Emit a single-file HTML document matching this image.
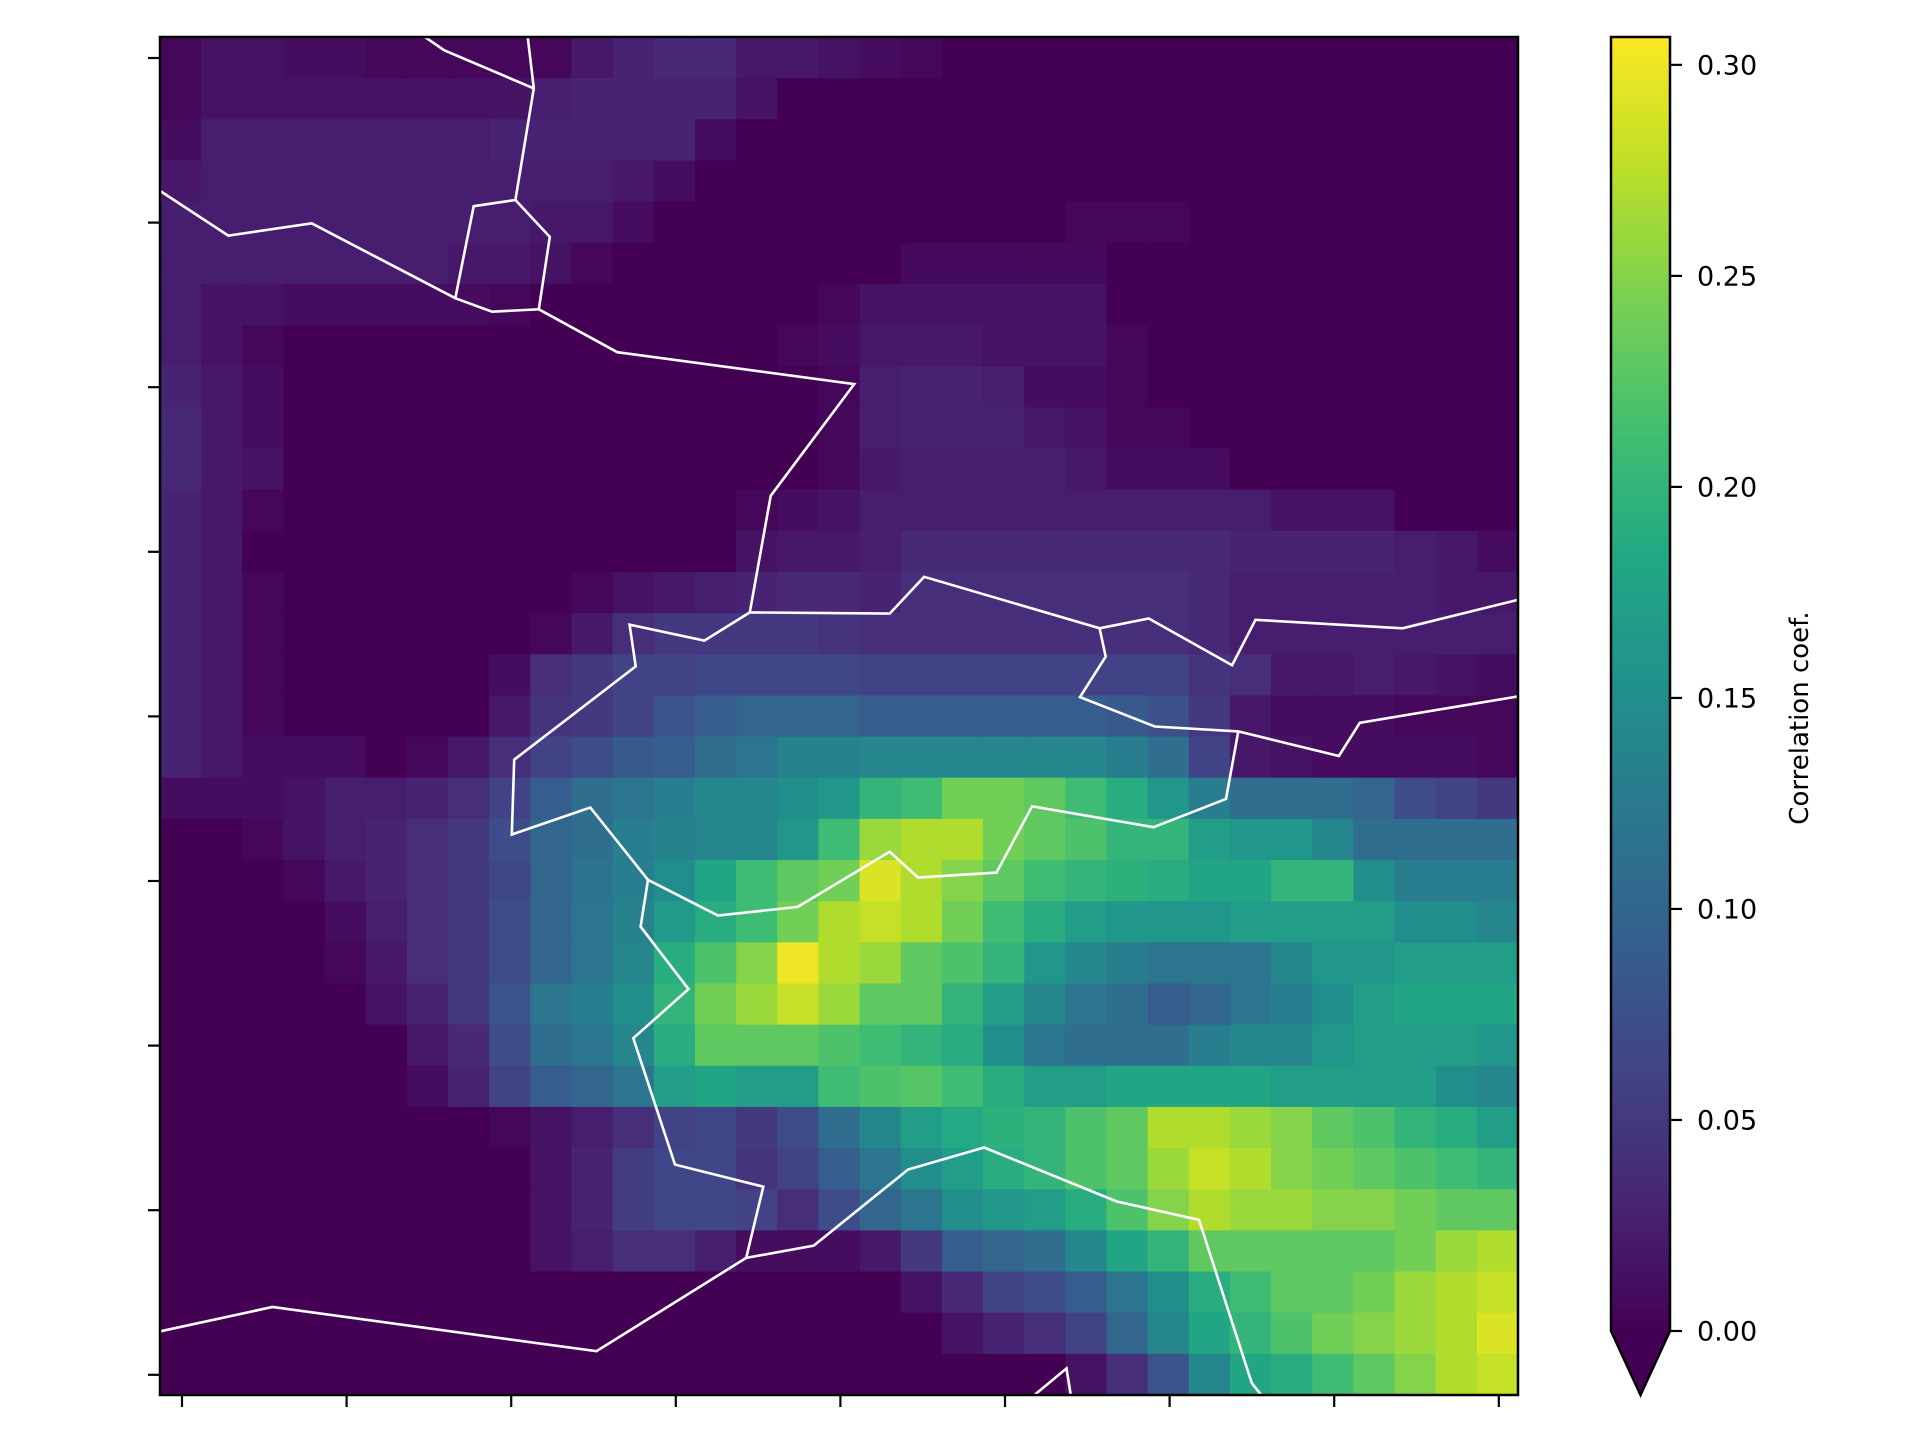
<!DOCTYPE html>
<html><head><meta charset="utf-8"><style>
html,body{margin:0;padding:0;background:#fff;}
svg{display:block;}
text{font-family:"DejaVu Sans","Liberation Sans",sans-serif;}
</style></head><body>
<svg id="chart" width="1920" height="1440" viewBox="0 0 1920 1440" xmlns="http://www.w3.org/2000/svg">
<defs>
<linearGradient id="vir" x1="0" y1="1" x2="0" y2="0">
<stop offset="0" stop-color="#440154"/><stop offset="0.1" stop-color="#482475"/><stop offset="0.2" stop-color="#414487"/><stop offset="0.3" stop-color="#355f8d"/><stop offset="0.4" stop-color="#2a788e"/><stop offset="0.5" stop-color="#21918c"/><stop offset="0.6" stop-color="#22a884"/><stop offset="0.7" stop-color="#44bf70"/><stop offset="0.8" stop-color="#7ad151"/><stop offset="0.9" stop-color="#bddf26"/><stop offset="1" stop-color="#fde725"/>
</linearGradient>
<clipPath id="plotclip"><rect x="160" y="37" width="1358" height="1358"/></clipPath>
</defs>
<g id="cells"></g>
<g id="coast" clip-path="url(#plotclip)"></g>
<rect x="160" y="37" width="1358" height="1358" fill="none" stroke="#000" stroke-width="2.5"/>
<g id="axticks"></g>
<g id="cbar">
<rect x="1611" y="37" width="59" height="1294" fill="url(#vir)"/>
<polygon points="1611,1331 1670,1331 1640.5,1395" fill="#440154"/>
<path d="M1611,1331 L1611,37 L1670,37 L1670,1331 L1640.5,1395 Z" fill="none" stroke="#000" stroke-width="2.5"/>
</g>
<g id="cbticks"></g>
<text x="1808" y="718" font-size="26" text-anchor="middle" transform="rotate(-90 1808 718)">Correlation coef.</text>
</svg>
<script>
const NS="http://www.w3.org/2000/svg";
// values in hundredths (0.01 units), rows top->bottom, 33 columns each
const row0=[0.5,1.5,1.5,1,1,0.5,0.5,0.5,0.5,0.5,2,3,3.5,3.5,2,2,1.5,1,0.5,0,0,0,0,0,0,0,0,0,0,0,0,0,0];
const row1=[0.5,1.5,1.5,1.5,1.5,1.5,1.5,1.5,1.5,2.5,3,3,3,3,1.5,0,0,0,0,0,0,0,0,0,0,0,0,0,0,0,0,0,0];
const row2=[1,2.5,2.5,2.5,2.5,2.5,2.5,2.5,3,3,3,3,3,1,0,0,0,0,0,0,0,0,0,0,0,0,0,0,0,0,0,0,0];
const row3=[2,2.5,2.5,2.5,2.5,2.5,2.5,2.5,2.5,2.5,2.5,2,1,0,0,0,0,0,0,0,0,0,0,0,0,0,0,0,0,0,0,0,0];
const row4=[2.5,2.5,2.5,2.5,2.5,2.5,2.5,2.5,2.5,2,2,1,0,0,0,0,0,0,0,0,0,0,0.5,0.5,0.5,0,0,0,0,0,0,0,0];
const row5=[2.5,2.5,2.5,2.5,2.5,2.5,2.5,2,2,1.5,0.5,0,0,0,0,0,0,0,0.8,0.8,0.8,0.8,0.8,0,0,0,0,0,0,0,0,0,0];
const row6=[2.5,1.5,1.5,1,1,1,1,1,0.5,0,0,0,0,0,0,0,0.5,1.5,1.5,1.5,1.5,1.5,1.5,0,0,0,0,0,0,0,0,0,0];
const row7=[2.5,1.5,0.5,0,0,0,0,0,0,0,0,0,0,0,0,0.5,1,2,2,2,1.5,1.5,1.5,0.5,0,0,0,0,0,0,0,0,0];
const row8=[3,2,1,0,0,0,0,0,0,0,0,0,0,0,0,0,0.5,2.5,3,3,2.5,1,1,0.5,0,0,0,0,0,0,0,0,0];
const row9=[3.5,2,1,0,0,0,0,0,0,0,0,0,0,0,0,0,0.5,2.5,3,3,3,2,1.5,0.5,0.5,0,0,0,0,0,0,0,0];
const row10=[3.5,2,1.5,0,0,0,0,0,0,0,0,0,0,0,0,0,0.5,2,2.5,2.5,2.5,2.5,2,1,1,1,0,0,0,0,0,0,0];
const row11=[3,2,0.5,0,0,0,0,0,0,0,0,0,0,0,0.5,1,1.5,2.5,2.5,2.5,2.5,2.5,2.5,2.5,2.5,2.5,2.5,1.5,1.5,1.5,0,0,0];
const row12=[3,2,0,0,0,0,0,0,0,0,0,0,0,0,1.5,2,2,2.5,3.5,3.5,3.5,3.5,3.5,3.5,3.5,3.5,3,3,3,3,2.5,2,1];
const row13=[3,2,0.5,0,0,0,0,0,0,0,0.5,1.5,2,2.5,3,3.5,3.5,3,4,4,4,4,4,4,4,3.5,2.5,2.5,2.5,2.5,2.5,2,2];
const row14=[3,2,0.5,0,0,0,0,0,0,0.5,2,4,5,5,5,5,4.5,4,4,4,4,4,4,4,4,3.5,2.5,2.5,2.5,2.5,2.5,2.5,2.5];
const row15=[3,2,0.5,0,0,0,0,0,1,4,5,6,6,6.5,6.5,6.5,6.5,6,6,6,6,6,6,6,6,4.5,4,2,2,2.5,2,1.5,1];
const row16=[3,2,0.5,0,0,0,0,0,2,4.5,5,6,8,9,10,10,10,9,9,9,9,9,9,8.5,7.5,5,2,1,1,1,0.5,0.5,0.5];
const row17=[3,2,1,1,1,0,0.5,2,4,6,7,8.5,9,11,12,13.5,13.5,14,14,14,14,14,14,13,11,6,2,1.5,1,1,1,1,0.5];
const row18=[1,1,1,1.5,2.5,2.5,3,4,6,9,11,12,13,14,14,15,16,20,21,24,24,23,21,19,16,13,11,11,11,10,7,6,5];
const row19=[0,0,0.5,1.5,2.5,3,4,5,7,10,11,13,13.5,14,14,16,21,26,27,27,24,23,22,20,20,17,16,16,14,11,11,11,11];
const row20=[0,0,0,0.5,2,3,4,5,6.5,10,11.5,13,15,18,21,23,24,29,27,25,23,21,20,19.5,19,18,18,20,20,15,13,13,13];
const row21=[0,0,0,0,1,2.5,4,5,7,10,12,13.5,16.5,19,21,24,27,28,27,24,21,19,17,16,16,16,17,17,17,17,15,15,14];
const row22=[0,0,0,0,0.5,2,4,5,7,10,12,14,19,22,25,30,27,26,23,22,20,16,14,13,12,12,12,14,16,16,17,17,17];
const row23=[0,0,0,0,0,1.5,3,5,8,12,13,15,20,24,26,28,26,23,23,20,17,14,12,11,9,10,12,13,15,17,18,18,18];
const row24=[0,0,0,0,0,0,2,3.5,7,11,12,14,19,23,23,23,22,21,20,19,15,12,11,11,11,13,14,14,16,17,17,17,16];
const row25=[0,0,0,0,0,0,1,3,6,9,10,12,17,18,17,17,21,22,22.5,21,19,17,17,18,18,18,18,17,17,17,17,15,14];
const row26=[0,0,0,0,0,0,0,0,0.5,1.5,2.5,4,6,6.5,5,7,11,14,17,18.5,19.5,20,22,23,27,27,26,25,23,22,20,19,17];
const row27=[0,0,0,0,0,0,0,0,0,1.5,3,5.5,6.5,6.5,4.5,6,9,12,15,17,19,20,22,23,26,28,27,25,24,23,22,21,20];
const row28=[0,0,0,0,0,0,0,0,0,1.5,3,5.5,6.5,6.5,6,4,7,10,12,15,16,17,19,22,25,27,26,26,25,25,24,23,23];
const row29=[0,0,0,0,0,0,0,0,0,1.5,2.5,4,4,2.5,1,1,1,2,5,9,10,11,14,18,20,23,23,23,23,23,24,26,27];
const row30=[0,0,0,0,0,0,0,0,0,0,0,0,0,0,0,0,0,0,1.5,3.5,6,7,9,12,15,19,21,23,23,24,26,27,28];
const row31=[0,0,0,0,0,0,0,0,0,0,0,0,0,0,0,0,0,0,0,1.5,3,4,6,10,14,18,20,22,24,25,26,27,29];
const row32=[0,0,0,0,0,0,0,0,0,0,0,0,0,0,0,0,0,0,0,0,0,0,1.5,4,8,14,18,19,21,23,25,27,28];
const rows=[row0,row1,row2,row3,row4,row5,row6,row7,row8,row9,row10,row11,row12,row13,row14,row15,row16,row17,row18,row19,row20,row21,row22,row23,row24,row25,row26,row27,row28,row29,row30,row31,row32];
const cbarTicks=[0,0.05,0.10,0.15,0.20,0.25,0.30];
const cbarLabels=["0.00","0.05","0.10","0.15","0.20","0.25","0.30"];
const xTickIdx=[0,1,2,3,4,5,6,7,8];
const yTickIdx=[0,1,2,3,4,5,6,7,8];

const VMAX=0.3066;
const PX0=160,PY0=37,PW=1358,PH=1358;
const ncol=33,nrow=rows.length;
const cw=PW/ncol,ch=PH/nrow;
const xCell=i=>PX0+i*cw;
const yCell=j=>PY0+j*ch;
const CB_Y0=1331,CB_TOP=37;
const cbY=v=>CB_Y0-(v/VMAX)*(CB_Y0-CB_TOP);
const vir=[[68,1,84],[72,36,117],[65,68,135],[53,95,141],[42,120,142],[33,145,140],[34,168,132],[68,191,112],[122,209,81],[189,223,38],[253,231,37]];
function color(v){
  let t=Math.max(0,Math.min(1,v/VMAX));
  const p=t*10,i=Math.min(9,Math.floor(p)),f=p-i;
  const a=vir[i],b=vir[i+1];
  return "rgb("+a.map((c,k)=>Math.round(c+(b[k]-c)*f)).join(",")+")";
}
const cells=document.getElementById('cells');
rows.forEach((r,j)=>r.forEach((v,i)=>{
  const el=document.createElementNS(NS,'rect');
  el.setAttribute('x',xCell(i));el.setAttribute('y',yCell(j));
  el.setAttribute('width',cw+0.6);el.setAttribute('height',ch+0.6);
  el.setAttribute('fill',color(v/100));
  
  
  cells.appendChild(el);
}));
// coastlines/borders (traced in 1564-px reference space, scaled to 1920)
const S=1920/1564.5;
const lines=[
 [[346,30],[362,41],[435,72]],
 [[430,30],[435,72],[420,163],[386,168],[371,243],[401,254],[439,252],[448,193],[420,163]],
 [[131,156],[186,192],[254,182],[371,243]],
 [[439,252],[503,287],[696,313],[628,404],[611,499],[574,522],[513,509],[518,543],[419,619],[417,680],[481,658],[528,717],[522,755],[561,806],[516,846],[550,949],[622,967],[608,1025],[663,1015],[740,953],[802,935],[910,979],[977,994],[1020,1127],[1028,1137]],
 [[608,1025],[486,1101],[222,1065],[130,1085]],
 [[611,499],[725,500],[753,470],[896,512],[936,504],[1004,542],[1023,505],[1143,512],[1240,488]],
 [[896,512],[901,535],[880,568],[941,592],[1009,596],[1091,616],[1108,589],[1240,567]],
 [[1009,596],[999,651],[940,674],[841,657],[812,711],[748,715],[725,694],[650,739],[585,746],[528,717]],
 [[839,1140],[869,1115],[873,1140]]
];
const coast=document.getElementById('coast');
lines.forEach(l=>{
  const el=document.createElementNS(NS,'polyline');
  el.setAttribute('points',l.map(p=>(p[0]*S).toFixed(1)+","+(p[1]*S).toFixed(1)).join(" "));
  el.setAttribute('fill','none');el.setAttribute('stroke','#fff');el.setAttribute('stroke-width','2.6');
  el.setAttribute('stroke-linejoin','miter');
  
  
  coast.appendChild(el);
});
const ax=document.getElementById('axticks');
const tickStep=164.6;
xTickIdx.forEach(k=>{
  const x=182+k*tickStep;
  const el=document.createElementNS(NS,'line');
  el.setAttribute('x1',x);el.setAttribute('x2',x);el.setAttribute('y1',1395);el.setAttribute('y2',1407);
  el.setAttribute('stroke','#000');el.setAttribute('stroke-width','2.2');
  
  
  ax.appendChild(el);
});
yTickIdx.forEach(k=>{
  const y=58+k*tickStep;
  const el=document.createElementNS(NS,'line');
  el.setAttribute('x1',148);el.setAttribute('x2',160);el.setAttribute('y1',y);el.setAttribute('y2',y);
  el.setAttribute('stroke','#000');el.setAttribute('stroke-width','2.2');
  
  
  ax.appendChild(el);
});
const cbt=document.getElementById('cbticks');
cbarTicks.forEach((v,k)=>{
  const y=cbY(v);
  const el=document.createElementNS(NS,'line');
  el.setAttribute('x1',1670);el.setAttribute('x2',1682);el.setAttribute('y1',y);el.setAttribute('y2',y);
  el.setAttribute('stroke','#000');el.setAttribute('stroke-width','2.2');
  
  
  cbt.appendChild(el);
  const t=document.createElementNS(NS,'text');
  t.setAttribute('x',1697);t.setAttribute('y',y+9.5);t.setAttribute('font-size','27');
  t.textContent=cbarLabels[k];
  
  
  cbt.appendChild(t);
});
</script>
</body></html>
